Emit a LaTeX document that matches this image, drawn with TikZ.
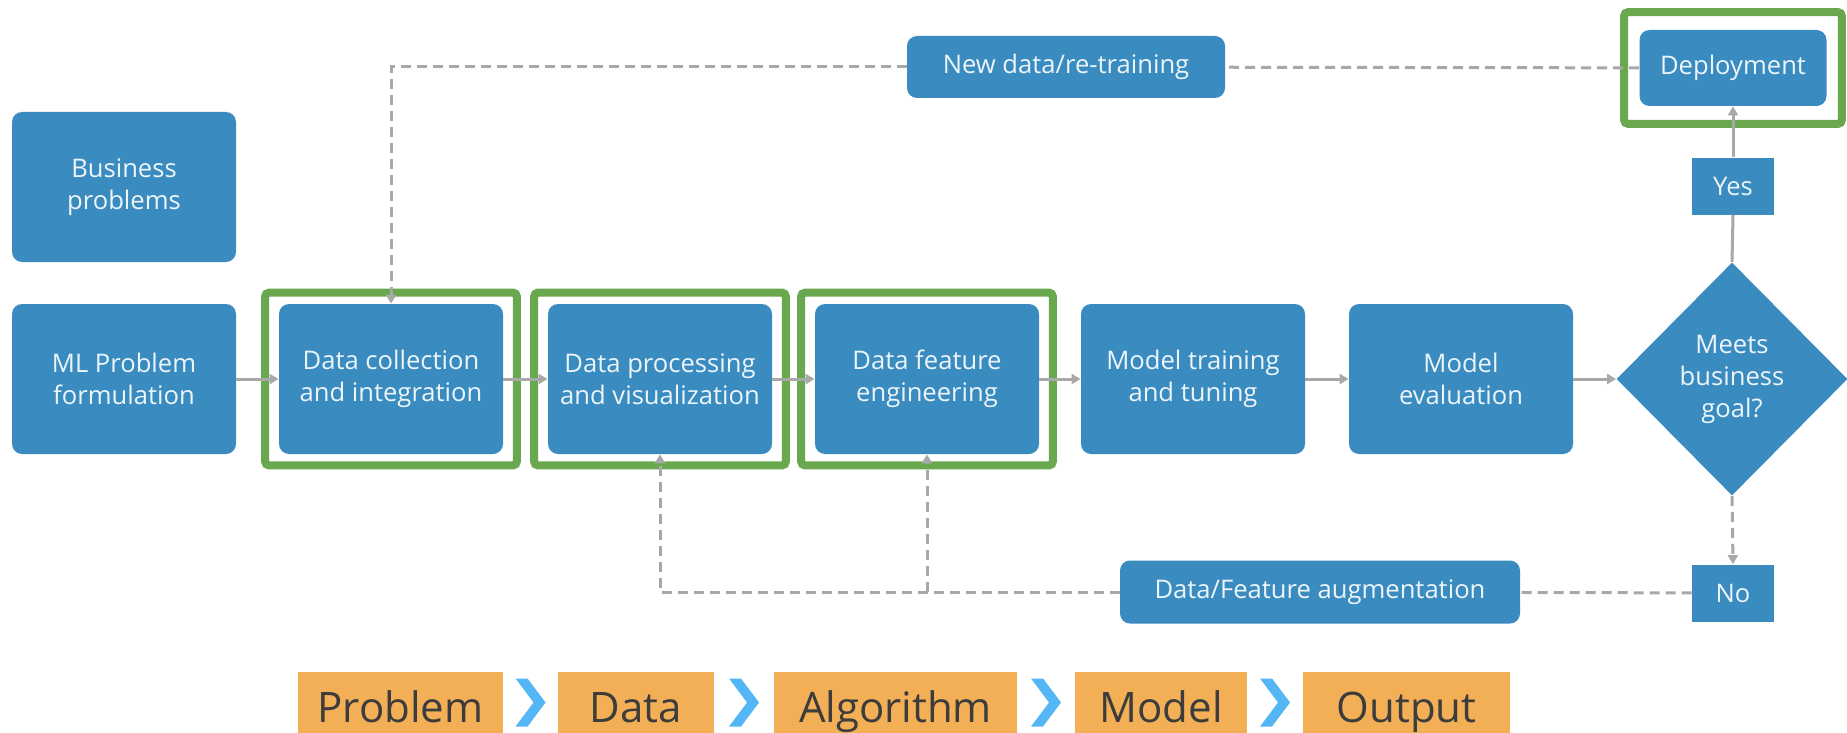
\documentclass[tikz,border=0pt]{standalone}
\usepackage{fontspec}
\setmainfont{Open Sans}
\usetikzlibrary{shapes.geometric,arrows.meta,fit,calc}
\definecolor{boxblue}{RGB}{58,139,191}
\definecolor{boxtext}{RGB}{236,245,250}
\definecolor{framegreen}{RGB}{106,168,79}
\definecolor{linegray}{RGB}{168,168,168}
\definecolor{orange1}{RGB}{243,175,86}
\definecolor{otext}{RGB}{60,60,60}
\definecolor{chevblue}{RGB}{84,182,244}
\begin{document}
\begin{tikzpicture}[x=0.5pt,y=-0.5pt,
  box/.style={fill=boxblue, rounded corners=5pt, text=boxtext, align=center, font=\fontsize{12.8}{16}\selectfont, inner sep=0pt},
  main/.style={box, minimum width=112pt, minimum height=75pt},
  sq/.style={fill=boxblue, text=boxtext, font=\fontsize{12.8}{16}\selectfont, minimum width=41pt, minimum height=28.5pt, inner sep=0pt},
  gframe/.style={draw=framegreen, line width=4pt, rounded corners=2pt, inner xsep=6.75pt, inner ysep=5.5pt},
  conn/.style={draw=linegray, line width=1.5pt},
  tip/.style={-{Triangle[length=4.5pt,width=5pt]}},
  arr/.style={conn, tip},
  dashline/.style={conn, dash pattern=on 5pt off 3pt},
  obox/.style={fill=orange1, text=otext, font=\fontsize{21}{21}\selectfont, minimum height=30.5pt, inner sep=0pt, text height=22pt, text depth=2.5pt},
  chev/.style={fill=chevblue}]

\useasboundingbox (0,0) rectangle (1847,733);

% main flow
\node[main] (bp) at (124,187) {Business\\problems};
\node[main] (ml) at (124,379) {ML Problem\\formulation};
\node[main] (dc) at (391,379) {Data collection\\and integration};
\node[main] (dp) at (660,379) {Data processing\\and visualization};
\node[main] (df) at (927,379) {Data feature\\engineering};
\node[main] (mt) at (1193,379) {Model training\\and tuning};
\node[main] (me) at (1461,379) {Model\\evaluation};
\node[diamond, shape aspect=1, fill=boxblue, text=boxtext, align=center,
      font=\fontsize{12.8}{16}\selectfont, inner sep=0pt,
      minimum width=115.5pt, minimum height=116.5pt] (goal) at (1732,379) {Meets\\business\\goal?};

\node[sq] (yes) at (1733,186) {Yes};
\node[box, minimum width=93.5pt, minimum height=38pt] (dep) at (1733,68) {Deployment};
\node[box, minimum width=159pt, minimum height=31pt] (nd) at (1066,67) {New data/re-training};
\node[sq] (no) at (1733,593) {No};
\node[box, minimum width=200pt, minimum height=31.5pt] (aug) at (1320,592) {Data/Feature augmentation};

% green frames
\node[gframe, fit=(dc)] (fdc) {};
\node[gframe, fit=(dp)] (fdp) {};
\node[gframe, fit=(df)] (fdf) {};
\node[gframe, inner xsep=7.5pt, inner ysep=8.75pt, fit=(dep)] (fdep) {};

% connectors
\draw[arr] (ml) -- (dc);
\draw[arr] (dc) -- (dp);
\draw[arr] (dp) -- (df);
\draw[arr] (df) -- (mt);
\draw[arr] (mt) -- (me);
\draw[arr] (me) -- (goal);
\draw[conn] (goal.north) -- (yes.south);
\draw[arr] (yes) -- (dep);
\draw[dashline, tip] (goal.south) -- (no.north);
\draw[dashline] (no) -- (aug);
\draw[dashline, tip] (aug.west) -| (dp.south);
\draw[dashline, tip] (aug.west -| df.south) -- (df.south);
\draw[dashline] (dep) -- (nd);
\draw[dashline, tip] (nd.west) -| (dc.north);

% bottom pipeline
\node[obox, minimum width=102.5pt] (p1) at (400.5,702.5) {Problem};
\node[obox, minimum width=78pt] (p2) at (636,702.5) {Data};
\node[obox, minimum width=121.5pt] (p3) at (895.5,702.5) {Algorithm};
\node[obox, minimum width=86pt] (p4) at (1161,702.5) {Model};
\node[obox, minimum width=103.5pt] (p5) at (1406.5,702.5) {Output};
\foreach \a/\b in {p1/p2,p2/p3,p3/p4,p4/p5}{
  \fill[chev] ($(\a.east)!0.5!(\b.west)$) ++(-15,-24) -- ++(12,0) -- ++(18,24) -- ++(-18,24) -- ++(-12,0) -- ++(18,-24) -- cycle;
}
\end{tikzpicture}
\end{document}
